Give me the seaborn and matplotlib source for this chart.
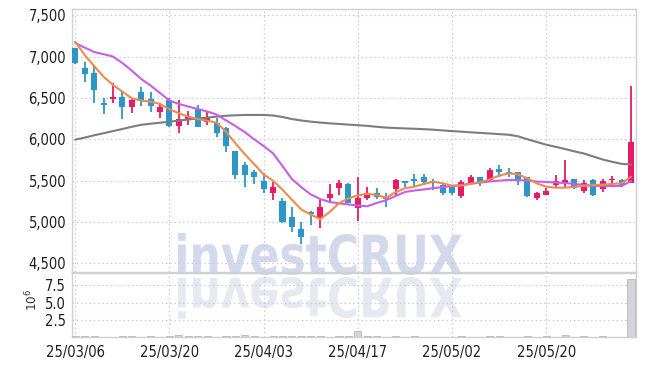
import matplotlib
matplotlib.use("Agg")
import numpy as np
import pandas as pd
import matplotlib.pyplot as plt
import seaborn as sns
from matplotlib.textpath import TextPath
from matplotlib.patches import PathPatch
from matplotlib.font_manager import FontProperties
from matplotlib.transforms import Affine2D, IdentityTransform
from matplotlib.ticker import FuncFormatter, FixedLocator

# trading days (yy/mm/dd)
dates = ["25/03/06", "25/03/07", "25/03/10", "25/03/11", "25/03/12", "25/03/13", "25/03/14",
         "25/03/17", "25/03/18", "25/03/19", "25/03/20", "25/03/21", "25/03/24", "25/03/25",
         "25/03/26", "25/03/27", "25/03/28", "25/03/31", "25/04/01", "25/04/02", "25/04/03",
         "25/04/04", "25/04/07", "25/04/08", "25/04/09", "25/04/10", "25/04/11", "25/04/14",
         "25/04/15", "25/04/16", "25/04/17", "25/04/18", "25/04/21", "25/04/22", "25/04/23",
         "25/04/24", "25/04/25", "25/04/28", "25/04/29", "25/04/30", "25/05/02", "25/05/07",
         "25/05/08", "25/05/09", "25/05/12", "25/05/13", "25/05/14", "25/05/15", "25/05/16",
         "25/05/19", "25/05/20", "25/05/21", "25/05/22", "25/05/23", "25/05/26", "25/05/27",
         "25/05/28", "25/05/29", "25/05/30", "25/06/02"]

opens = [7102, 6860, 6799, 6436, 6492, 6509, 6395, 6573, 6488, 6327,
         6476, 6165, 6242, 6364, 6213, 6194, 6141, 5859, 5690, 5605,
         5500, 5354, 5254, 5064, 4912, 5121, 5064, 5294, 5408, 5460,
         5173, 5287, 5347, 5306, 5395, 5496, 5516, 5540, 5496, 5448,
         5420, 5318, 5476, 5540, 5508, 5641, 5601, 5601, 5540, 5294,
         5323, 5448, 5468, 5516, 5379, 5508, 5403, 5508, 5508, 5476]
highs = [7110, 6932, 6900, 6497, 6678, 6585, 6490, 6630, 6573, 6443,
         6497, 6476, 6347, 6416, 6347, 6255, 6145, 5860, 5730, 5629,
         5589, 5480, 5287, 5185, 5004, 5137, 5266, 5460, 5508, 5468,
         5548, 5420, 5408, 5347, 5516, 5500, 5576, 5576, 5516, 5468,
         5448, 5508, 5569, 5545, 5650, 5690, 5650, 5605, 5545, 5359,
         5408, 5569, 5750, 5524, 5508, 5516, 5516, 5556, 5520, 6645]
lows = [6910, 6697, 6443, 6307, 6443, 6243, 6315, 6403, 6330, 6255,
        6146, 6073, 6174, 6146, 6174, 6025, 5850, 5517, 5420, 5456,
        5354, 5266, 4984, 4883, 4734, 4964, 4924, 5233, 5323, 5226,
        5012, 5270, 5275, 5178, 5323, 5420, 5435, 5448, 5387, 5327,
        5327, 5287, 5468, 5435, 5500, 5548, 5540, 5448, 5299, 5266,
        5323, 5420, 5427, 5395, 5355, 5315, 5363, 5468, 5420, 5468]
closes = [6920, 6787, 6597, 6420, 6512, 6395, 6476, 6480, 6407, 6388,
          6161, 6243, 6282, 6153, 6267, 6080, 5923, 5569, 5569, 5548,
          5399, 5425, 5004, 4943, 4815, 5100, 5185, 5339, 5468, 5233,
          5287, 5355, 5299, 5275, 5508, 5468, 5496, 5488, 5476, 5347,
          5347, 5484, 5548, 5488, 5629, 5609, 5589, 5508, 5315, 5347,
          5375, 5496, 5508, 5408, 5468, 5327, 5496, 5520, 5448, 5968]

# moving averages as drawn on the chart
ma5 = [7181, 7020, 6887, 6758, 6658, 6577, 6497, 6468, 6456, 6428,
       6365, 6315, 6274, 6246, 6226, 6201, 6093, 5952, 5820, 5700,
       5575, 5500, 5390, 5270, 5150, 5090, 5034, 5120, 5227, 5286,
       5322, 5340, 5327, 5294, 5359, 5408, 5427, 5460, 5488, 5468,
       5440, 5440, 5462, 5480, 5516, 5560, 5589, 5577, 5528, 5468,
       5427, 5415, 5415, 5427, 5435, 5448, 5452, 5460, 5468, 5548]
ma10 = [7165, 7110, 7057, 7030, 7002, 6924, 6830, 6730, 6650, 6560,
        6470, 6428, 6397, 6367, 6337, 6300, 6230, 6161, 6086, 6000,
        5919, 5830, 5677, 5520, 5421, 5333, 5278, 5242, 5226, 5212,
        5200, 5190, 5230, 5264, 5315, 5363, 5381, 5393, 5410, 5422,
        5435, 5448, 5465, 5477, 5490, 5500, 5508, 5508, 5500, 5490,
        5484, 5478, 5472, 5460, 5448, 5436, 5436, 5436, 5436, 5494]
ma60 = [5997, 6021, 6049, 6074, 6100, 6125, 6152, 6176, 6189, 6201,
        6214, 6227, 6240, 6252, 6263, 6275, 6285, 6291, 6295, 6295,
        6295, 6289, 6270, 6246, 6228, 6214, 6203, 6194, 6186, 6178,
        6171, 6163, 6152, 6142, 6137, 6132, 6128, 6123, 6117, 6108,
        6100, 6093, 6085, 6078, 6071, 6063, 6056, 6037, 6001, 5968,
        5935, 5910, 5883, 5854, 5829, 5792, 5756, 5728, 5704, 5696]

volume = [90000, 80000, 110000, 70000, 60000, 90000, 80000, 70000, 100000, 60000,
          120000, 300000, 90000, 100000, 80000, 60000, 90000, 80000, 330000, 110000,
          70000, 90000, 120000, 100000, 110000, 90000, 80000, 70000, 100000, 120000,
          900000, 110000, 80000, 60000, 150000, 70000, 80000, 60000, 70000, 60000,
          70000, 80000, 60000, 70000, 150000, 80000, 60000, 70000, 160000, 70000,
          80000, 60000, 300000, 70000, 80000, 60000, 150000, 70000, 60000, 8500000]

UP = "#e61a66"
DOWN = "#2d96c8"
GRID = "#c5cbe0"
SPINE = "#cfcfd4"

sns.set_theme(style="white")
plt.rcParams["font.family"] = ["DejaVu Sans"]
plt.rcParams["font.stretch"] = "condensed"

df = pd.DataFrame({"date": dates, "open": opens, "high": highs, "low": lows,
                   "close": closes, "ma5": ma5, "ma10": ma10, "ma60": ma60,
                   "volume": volume})
df["i"] = np.arange(len(df))
df["up"] = df["close"] >= df["open"]

fig = plt.figure(figsize=(6.45, 3.66), dpi=100)
fig.patch.set_facecolor("white")
ax = fig.add_axes([71.7 / 645, 1 - 272 / 366, 564 / 645, 263 / 366])
axv = fig.add_axes([71.7 / 645, 1 - 337 / 366, 564 / 645, 64 / 366], sharex=ax)
for a in (ax, axv):
    a.set_facecolor("none")
    for s in a.spines.values():
        s.set_color(SPINE)
        s.set_linewidth(1.0)

# candles
cols = np.where(df["up"], UP, DOWN)
ax.vlines(df["i"], df["low"], df["high"], colors=cols, lw=1.3, zorder=2)
ax.bar(df["i"], (df["close"] - df["open"]).abs(), bottom=df[["open", "close"]].min(axis=1),
       width=0.64, color=cols, linewidth=0, zorder=3)

# moving averages
sns.lineplot(data=df, x="i", y="ma60", color="#7c7c7c", lw=1.5, ax=ax, zorder=4)
sns.lineplot(data=df, x="i", y="ma10", color="#c85ee6", lw=1.5, ax=ax, zorder=5)
sns.lineplot(data=df, x="i", y="ma5", color="#ef8a4c", lw=1.5, ax=ax, zorder=6)

# volume
axv.bar(df["i"], df["volume"] / 1e6, width=0.75, color="#d4d4d8",
        edgecolor="#b8b8bd", linewidth=0.6, zorder=3)

ax.set_xlim(-0.38, 59.5)
ax.set_ylim(4395, 7577)
axv.set_ylim(0, 9.3)

ax.yaxis.set_major_locator(FixedLocator([4500, 5000, 5500, 6000, 6500, 7000, 7500]))
ax.yaxis.set_major_formatter(FuncFormatter(lambda v, p: f"{v:,.0f}"))
axv.yaxis.set_major_locator(FixedLocator([2.5, 5.0, 7.5]))
axv.yaxis.set_major_formatter(FuncFormatter(lambda v, p: f"{v:.1f}"))
tick_idx = list(range(0, 60, 10))
axv.xaxis.set_major_locator(FixedLocator(tick_idx))
axv.xaxis.set_major_formatter(FuncFormatter(lambda v, p: dates[int(round(v))] if 0 <= v < 60 else ""))
ax.tick_params(axis="x", labelbottom=False, length=0)

for a in (ax, axv):
    a.grid(True, color=GRID, linestyle=(0, (1.2, 2.2)), linewidth=0.9)
    a.set_axisbelow(True)
    a.tick_params(axis="both", length=0, labelsize=10.5, labelcolor="#1e1e1e", pad=4)
    a.set_xlabel("")
    a.set_ylabel("")
axv.tick_params(axis="x", pad=6)

fig.text(32 / 645, 1 - 300 / 366, r"$10^6$", rotation=90, fontsize=9.5,
         color="#333333", ha="center", va="center")

# watermark with reflection
fp = FontProperties(family="DejaVu Sans", weight="bold")
tp = TextPath((0, 0), "investCRUX", size=100, prop=fp)
bb = tp.get_extents()
sx, sy = 284 / bb.width, 42 / bb.height
base = Affine2D().translate(-bb.x0, -bb.y0)
mark = PathPatch((base + Affine2D().scale(sx, sy).translate(178, 366 - 275)).transform_path(tp),
                 facecolor="#d3d8ea", edgecolor="none", transform=IdentityTransform(), zorder=-1)
refl = PathPatch((base + Affine2D().scale(sx, -sy).translate(178, 366 - 277)).transform_path(tp),
                 facecolor="#e7e9f1", edgecolor="none", transform=IdentityTransform(), zorder=-1)
fig.add_artist(mark)
fig.add_artist(refl)

fig.savefig("out.png", dpi=100)
